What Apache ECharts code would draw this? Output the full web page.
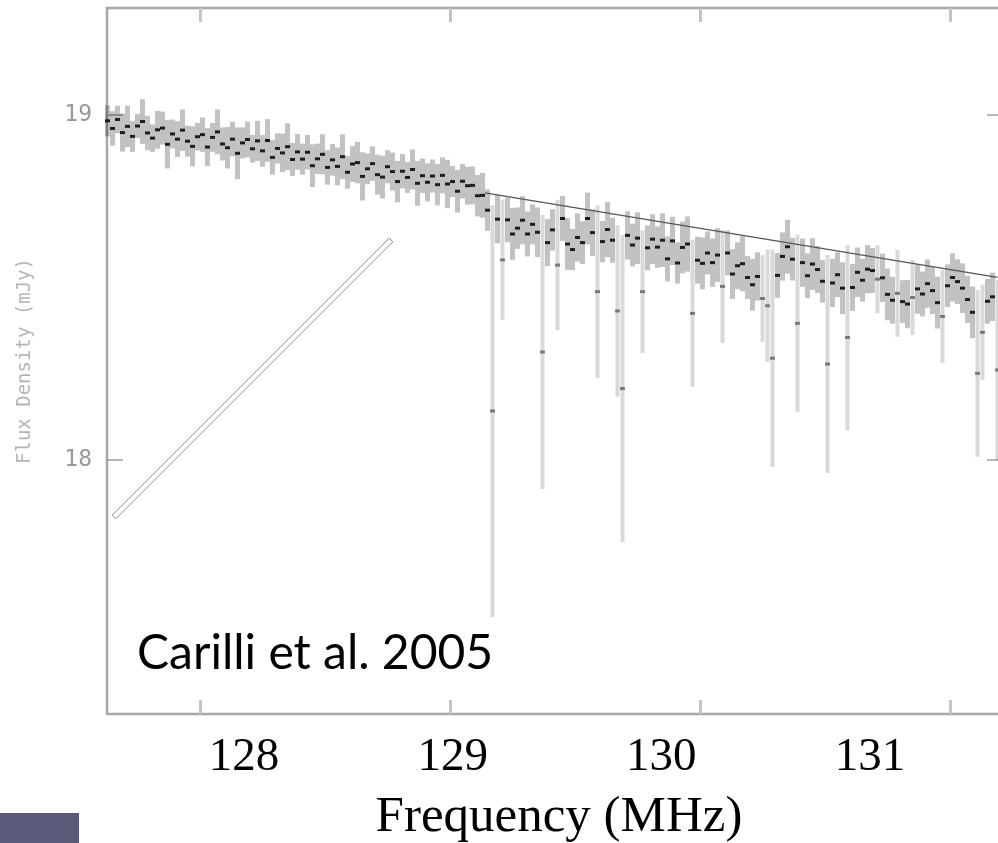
<!DOCTYPE html>
<html>
<head>
<meta charset="utf-8">
<script src="https://cdn.jsdelivr.net/npm/echarts@6/dist/echarts.min.js"></script>
<style>
html,body{margin:0;padding:0;background:#fff;}
#chart{width:998px;height:843px;}
</style>
</head>
<body>
<div id="chart"></div>
<script>
// Channel grid (MHz)
const CH_START = 127.63;
const CH_WIDTH = 0.02;

// Flux density per channel (mJy)
const flux = [
18.983,18.961,18.987,18.949,18.967,18.938,18.968,18.981,18.948,18.933,18.957,18.962,18.915,18.945,18.930,18.956,18.924,18.909,18.937,18.943,
18.907,18.935,18.951,18.916,18.905,18.930,18.889,18.919,18.929,18.902,
18.925,18.896,18.926,18.877,18.903,18.890,18.908,18.871,18.893,18.872,
18.892,18.853,18.873,18.886,18.848,
18.870,18.851,18.879,18.834,18.858,18.862,18.822,18.844,18.859,18.827,
18.820,18.850,18.836,18.807,18.837,18.819,18.842,18.802,18.824,18.805,
18.823,18.798,18.825,18.800,18.807,18.779,18.808,18.795,
18.796,18.766,18.767,18.724,18.142,18.698,18.580,18.696,
18.655,18.672,18.695,18.655,18.683,18.660,18.313,18.630,18.667,18.565,
18.700,18.626,18.610,18.645,18.630,18.700,18.659,18.488,18.633,18.668,
18.637,18.432,18.207,18.651,18.623,18.643,18.488,18.615,18.640,18.617,
18.637,18.583,18.635,18.571,18.616,18.626,18.425,18.579,18.570,18.600,
18.572,18.594,18.503,18.600,18.539,18.563,18.569,18.529,18.508,18.532,
18.468,18.447,18.295,18.535,18.590,18.618,18.582,18.396,18.572,18.534,
18.568,18.552,18.518,18.278,18.513,18.537,18.498,18.355,18.500,18.544,
18.521,18.553,18.549,18.524,18.528,18.480,18.463,18.483,18.459,18.452,
18.471,18.496,18.481,18.511,18.491,18.456,18.416,18.505,18.529,18.517,
18.498,18.465,18.428,18.251,18.370,18.460,18.473,18.261
];

// 1-sigma error per channel (mJy)
const fluxErr = [
0.045,0.050,0.040,0.055,0.060,0.045,0.035,0.065,0.050,0.040,0.055,0.048,0.070,0.042,0.052,0.060,0.045,0.058,0.040,0.050,
0.055,0.042,0.065,0.048,0.060,0.050,0.075,0.045,0.052,0.040,0.058,0.046,0.062,0.050,0.044,0.056,0.068,0.048,0.052,0.045,
0.050,0.062,0.044,0.058,0.050,0.046,0.055,0.065,0.048,0.052,0.060,0.070,0.045,0.050,0.058,0.062,0.048,0.055,0.060,0.050,
0.045,0.058,0.065,0.050,0.055,0.048,0.060,0.052,0.070,0.045,0.062,0.050,0.055,
0.055,0.060,0.065,0.060,0.597,0.070,0.174,0.065,
0.075,0.060,0.070,0.065,0.058,0.072,0.397,0.068,0.060,0.189,
0.065,0.075,0.060,0.070,0.062,0.075,0.068,0.250,0.060,0.080,
0.065,0.249,0.445,0.070,0.062,0.075,0.178,0.065,0.072,0.060,
0.078,0.065,0.070,0.060,0.075,0.080,0.213,0.068,0.075,0.062,
0.070,0.078,0.164,0.065,0.072,0.068,0.080,0.062,0.075,0.070,
0.126,0.163,0.315,0.065,0.070,0.078,0.062,0.257,0.070,0.065,
0.075,0.068,0.062,0.316,0.070,0.065,0.075,0.268,0.068,0.072,
0.062,0.070,0.065,0.099,0.070,0.075,0.068,0.126,0.062,0.070,
0.109,0.072,0.065,0.070,0.068,0.075,0.135,0.062,0.070,0.065,
0.072,0.068,0.075,0.242,0.138,0.065,0.070,0.261
];

// Continuum model line
const contFreq = [129.14, 131.19];
const contFlux = [18.774, 18.529];

// Tick labels
const xTicks = [128, 129, 130, 131];
const yTicks = [18, 19];
const xTitle = 'Frequency (MHz)';
const yTitle = 'Flux Density (mJy)';
const note = 'Carilli et al. 2005';

const specData = flux.map((v, i) => [+(CH_START + i * CH_WIDTH).toFixed(3), v, fluxErr[i]]);
const contData = contFreq.map((f, i) => [f, contFlux[i]]);

const chart = echarts.init(document.getElementById('chart'), null, {renderer: 'canvas'});

const tickStyle = {show: true, inside: true, length: 14, lineStyle: {color: '#c4c4c4', width: 3}};

chart.setOption({
  animation: false,
  backgroundColor: '#fff',
  grid: {left: 107, top: 8, width: 894, height: 706, show: true, borderColor: '#a8a8a8', borderWidth: 2.5, containLabel: false, outerBoundsMode: 'none'},
  xAxis: [
    {type: 'value', position: 'bottom', min: 127.628, max: 131.204,
     axisLine: {show: false}, splitLine: {show: false},
     axisTick: Object.assign({customValues: xTicks}, tickStyle),
     axisLabel: {show: false}},
    {type: 'value', position: 'top', min: 127.628, max: 131.204,
     axisLine: {show: false}, splitLine: {show: false},
     axisTick: Object.assign({customValues: xTicks}, tickStyle),
     axisLabel: {show: false}},
    {type: 'value', position: 'bottom', min: 127.3435, max: 131.6278,
     axisLine: {show: false}, splitLine: {show: false}, axisTick: {show: false},
     axisLabel: {customValues: xTicks, margin: 20, fontFamily: 'Liberation Serif', fontSize: 47, color: '#000'},
     name: xTitle, nameLocation: 'middle', nameGap: 78,
     nameTextStyle: {fontFamily: 'Liberation Serif', fontSize: 51, color: '#000', padding: [0, 0, 0, 10]}}
  ],
  yAxis: [
    {type: 'value', position: 'left', min: 17.2637, max: 19.3101,
     axisLine: {show: false}, splitLine: {show: false},
     axisTick: {show: true, inside: true, length: 16, customValues: yTicks, lineStyle: {color: '#a0a0a0', width: 1.5}},
     axisLabel: {customValues: yTicks, margin: 15, fontFamily: 'DejaVu Sans Mono', fontSize: 23, color: '#999'},
     name: yTitle, nameLocation: 'middle', nameRotate: 90, nameGap: 72,
     nameTextStyle: {fontFamily: 'DejaVu Sans Mono', fontSize: 19, color: '#b4b4b4'}},
    {type: 'value', position: 'right', min: 17.2637, max: 19.3101,
     axisLine: {show: false}, splitLine: {show: false},
     axisTick: {show: true, inside: true, length: 14, customValues: yTicks, lineStyle: {color: '#a0a0a0', width: 1.5}},
     axisLabel: {show: false}}
  ],
  series: [
    {
      type: 'custom', xAxisIndex: 0, yAxisIndex: 0,
      data: specData,
      renderItem: function (params, api) {
        const x = api.value(0), y = api.value(1), e = api.value(2);
        const p = api.coord([x, y]);
        const top = api.coord([x, y + e]);
        const bot = api.coord([x, y - e]);
        const big = e > 0.09;
        const w = big ? 4 : 5;
        return {
          type: 'group',
          children: [
            {type: 'rect', shape: {x: p[0] - w / 2, y: top[1], width: w, height: bot[1] - top[1]},
             style: {fill: big ? 'rgba(0,0,0,0.15)' : 'rgba(0,0,0,0.24)'}},
            {type: 'rect', shape: {x: p[0] - 2.5, y: p[1] - 1.5, width: 5, height: 3},
             style: {fill: big ? 'rgba(0,0,0,0.45)' : 'rgba(0,0,0,0.85)'}}
          ]
        };
      }
    },
    {
      type: 'line', xAxisIndex: 0, yAxisIndex: 0, data: contData,
      symbol: 'none', lineStyle: {color: '#555', width: 1.3}
    }
  ],
  graphic: [
    {type: 'polygon', shape: {points: [[112.2, 515.2], [389.2, 238.2], [392.8, 241.8], [115.8, 518.8]]},
     style: {fill: '#fff', stroke: '#8a8a8a', lineWidth: 1}},
    {type: 'text', left: 137, top: 630,
     style: {text: note, fontFamily: 'Lato', fontSize: 48, fill: '#000'}},
    {type: 'rect', shape: {x: 0, y: 813, width: 79, height: 30}, style: {fill: '#5a5a7a'}}
  ]
});
</script>
</body>
</html>
